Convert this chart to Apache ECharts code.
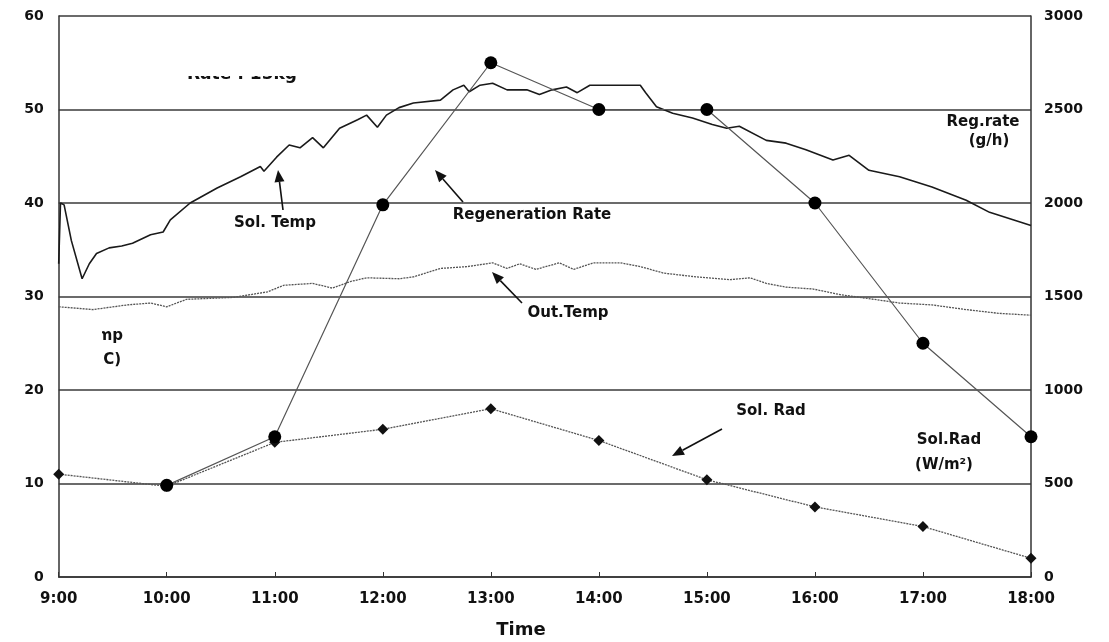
<!DOCTYPE html>
<html>
<head>
<meta charset="utf-8">
<script src="https://cdn.jsdelivr.net/npm/echarts@6/dist/echarts.min.js"></script>
<style>html,body{margin:0;padding:0;background:#fff}#c{width:1109px;height:642px}</style>
</head>
<body>
<div id="c"></div>
<script>
// ---- tick labels ----
var timeLabels = ['9:00','10:00','11:00','12:00','13:00','14:00','15:00','16:00','17:00','18:00'];

// ---- Regeneration rate (g/h), hourly, right axis ----
var regMinutes = [60,120,180,240,300,360,420,480,540];
var regRate    = [490,750,1990,2750,2500,2500,2000,1250,750];

// ---- Solar radiation (W/m2), hourly, right axis ----
var radMinutes = [0,60,120,180,240,300,360,420,480,540];
var solRad     = [550,485,720,790,900,730,520,375,270,100];

// ---- Solution temperature (C), left axis (minutes after 9:00) ----
var solTempMinutes = [0,1,3,7,13,17,21,28,35,41,51,58,62,73,88,101,112,114,121,128,134,141,147,156,166,171,177,182,189,197,212,219,225,228,234,241,249,260,267,274,282,288,295,323,326,332,341,352,363,371,378,393,404,415,430,439,450,467,485,504,517,540];
var solTemp        = [33.5,40.0,39.8,36.0,31.9,33.5,34.6,35.2,35.4,35.7,36.6,36.9,38.2,40.0,41.6,42.8,43.9,43.4,44.9,46.2,45.9,47.0,45.9,48.0,48.9,49.4,48.1,49.4,50.2,50.7,51.0,52.1,52.6,51.9,52.6,52.8,52.1,52.1,51.6,52.1,52.4,51.8,52.6,52.6,51.8,50.3,49.6,49.1,48.4,48.0,48.2,46.7,46.4,45.7,44.6,45.1,43.5,42.8,41.7,40.3,39.0,37.6];

// ---- Outdoor temperature (C), left axis ----
var outTempMinutes = [0,19,38,51,60,71,97,116,125,141,152,162,171,189,197,212,227,241,249,256,265,278,286,297,312,323,336,354,373,384,393,404,419,434,449,467,485,504,522,540];
var outTemp        = [28.9,28.6,29.1,29.3,28.9,29.7,29.9,30.5,31.2,31.4,30.9,31.6,32.0,31.9,32.1,33.0,33.2,33.6,33.0,33.5,32.9,33.6,32.9,33.6,33.6,33.2,32.5,32.1,31.8,32.0,31.4,31.0,30.8,30.2,29.8,29.3,29.1,28.6,28.2,28.0];

function zip(a,b){return a.map(function(v,i){return [v,b[i]];});}

var FONT = 'DejaVu Sans';
var chart = echarts.init(document.getElementById('c'), null, {renderer:'canvas'});

function arrow(x1,y1,x2,y2){
  var dx=x2-x1, dy=y2-y1, L=Math.sqrt(dx*dx+dy*dy), ux=dx/L, uy=dy/L;
  var hl=12, hw=5;
  var bx=x2-ux*hl, by=y2-uy*hl;
  return [
    {type:'line', shape:{x1:x1,y1:y1,x2:bx,y2:by}, style:{stroke:'#111',lineWidth:1.6}, z:100},
    {type:'polygon', shape:{points:[[x2,y2],[bx-uy*hw,by+ux*hw],[bx+uy*hw,by-ux*hw]]}, style:{fill:'#111'}, z:100}
  ];
}
function label(txt,x,y,size,align){
  return {type:'text', x:x, y:y, z:100, style:{text:txt, font:'bold '+(size||15)+'px "'+FONT+'"', fill:'#111', align:align||'center', verticalAlign:'middle'}};
}

var graphics = [];
graphics.push(label('Rate : 15kg',242,75,17));
graphics.push({type:'rect', shape:{x:170,y:50,width:150,height:26}, style:{fill:'#fff'}, z:101});
graphics.push(label('Temp',123,336,15,'right'));
graphics.push(label('(°C)',121,360,15,'right'));
graphics.push({type:'rect', shape:{x:62,y:322,width:40,height:52}, style:{fill:'#fff'}, z:101});
graphics.push(label('Sol. Temp',275,223));
graphics.push(label('Regeneration Rate',532,215));
graphics.push(label('Out.Temp',568,313));
graphics.push(label('Sol. Rad',771,411));
graphics.push(label('Reg.rate',983,122));
graphics.push(label('(g/h)',989,141));
graphics.push(label('Sol.Rad',949,440));
graphics.push(label('(W/m²)',944,465));
graphics.push(label('Time',521,630,18));
graphics = graphics.concat(arrow(283,210,278,170));
graphics = graphics.concat(arrow(463,202,435,170));
graphics = graphics.concat(arrow(522,303,492,272));
graphics = graphics.concat(arrow(722,429,672,456));

var option = {
  backgroundColor:'#fff',
  animation:false,
  grid:{left:58.7, right:78, top:16, bottom:65, containLabel:false},
  xAxis:{
    type:'value', min:0, max:540, interval:60,
    axisLine:{show:true, lineStyle:{color:'#333', width:1.5}},
    axisTick:{show:true, inside:true, length:5, lineStyle:{color:'#333'}},
    splitLine:{show:false},
    axisLabel:{margin:15, color:'#111', fontFamily:FONT, fontWeight:'bold', fontSize:15,
      formatter:function(v){return timeLabels[Math.round(v/60)];}}
  },
  yAxis:[
    {type:'value', min:0, max:60, interval:10, position:'left',
      axisLine:{show:true, lineStyle:{color:'#333', width:1.5}},
      axisTick:{show:false},
      splitLine:{show:true, lineStyle:{color:'#3a3a3a', width:1.5}},
      axisLabel:{margin:15, color:'#111', fontFamily:FONT, fontWeight:'bold', fontSize:14}},
    {type:'value', min:0, max:3000, interval:500, position:'right',
      axisLine:{show:true, lineStyle:{color:'#333', width:1.5}},
      axisTick:{show:false},
      splitLine:{show:false},
      axisLabel:{margin:13, color:'#111', fontFamily:FONT, fontWeight:'bold', fontSize:14,
        formatter:function(v){return String(v);}}}
  ],
  series:[
    {name:'Out.Temp', type:'line', yAxisIndex:0, data:zip(outTempMinutes,outTemp), showSymbol:false, symbol:'none',
      lineStyle:{color:'#555', width:1.3, type:[2,1]}, z:3},
    {name:'Sol.Temp', type:'line', yAxisIndex:0, data:zip(solTempMinutes,solTemp), showSymbol:false, symbol:'none',
      lineStyle:{color:'#1a1a1a', width:1.6}, z:4},
    {name:'Sol.Rad', type:'line', yAxisIndex:1, data:zip(radMinutes,solRad), symbol:'diamond', symbolSize:11,
      itemStyle:{color:'#111'}, lineStyle:{color:'#555', width:1.3, type:[2,1]}, z:5},
    {name:'Regeneration Rate', type:'line', yAxisIndex:1, data:zip(regMinutes,regRate), symbol:'circle', symbolSize:13,
      itemStyle:{color:'#000'}, lineStyle:{color:'#555', width:1.2}, z:6}
  ],
  graphic:graphics
};
chart.setOption(option);
</script>
</body>
</html>
